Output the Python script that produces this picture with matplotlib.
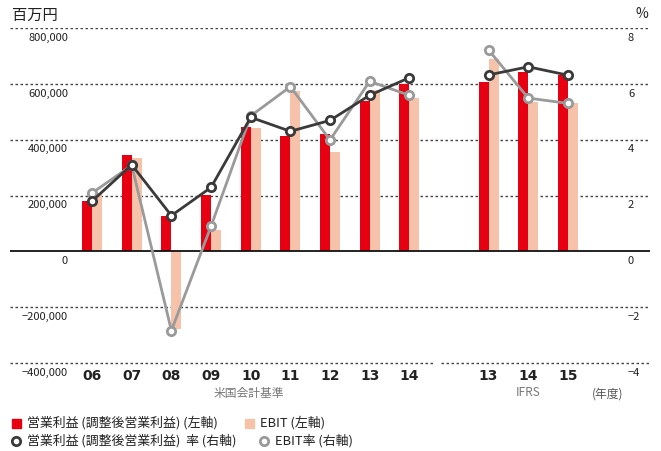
import matplotlib
matplotlib.use("Agg")
import matplotlib.pyplot as plt
from matplotlib.lines import Line2D
from matplotlib.patches import Rectangle

plt.rcParams['font.family'] = ['Noto Sans CJK JP', 'DejaVu Sans']

# ---- data ----
us_years = ["06", "07", "08", "09", "10", "11", "12", "13", "14"]
ifrs_years = ["13", "14", "15"]
us_op = [180000, 345000, 126000, 201000, 445000, 413000, 420000, 540000, 601000]
us_ebit = [210000, 334000, -279000, 76000, 442000, 575000, 355000, 578000, 549000]
us_op_rate = [1.80, 3.10, 1.28, 2.29, 4.80, 4.30, 4.69, 5.59, 6.22]
us_ebit_rate = [2.09, 3.08, -2.84, 0.90, 4.85, 5.90, 3.99, 6.09, 5.59]
ifrs_op = [605000, 644000, 631000]
ifrs_ebit = [690000, 536000, 531000]
ifrs_op_rate = [6.32, 6.61, 6.31]
ifrs_ebit_rate = [7.21, 5.49, 5.30]
left_ticks = [800000, 600000, 400000, 200000, 0, -200000, -400000]
left_labels = ["800,000", "600,000", "400,000", "200,000", "0", "−200,000", "−400,000"]
right_ticks = [8, 6, 4, 2, 0, -2, -4]
right_labels = ["8", "6", "4", "2", "0", "−2", "−4"]

RED = "#E60012"
PINK = "#F6C3AA"
DARK = "#3a3a3a"
GRAY = "#9a9a9a"
TXT = "#222222"

W, H = 661, 451
fig = plt.figure(figsize=(W / 100, H / 100), dpi=100)
ax = fig.add_axes([10 / W, 1 - 363 / H, 640 / W, 335 / H])
ax2 = ax.twinx()

gap = 2
us_x = list(range(len(us_years)))
ifrs_x = [len(us_years) - 1 + gap + i for i in range(len(ifrs_years))]
bw = 0.25

ax.bar([x - bw / 2 for x in us_x], us_op, width=bw, color=RED, zorder=3)
ax.bar([x + bw / 2 for x in us_x], us_ebit, width=bw, color=PINK, zorder=3)
ax.bar([x - bw / 2 for x in ifrs_x], ifrs_op, width=bw, color=RED, zorder=3)
ax.bar([x + bw / 2 for x in ifrs_x], ifrs_ebit, width=bw, color=PINK, zorder=3)

xmin, xmax = -2.07, ifrs_x[-1] + 2.07
ax.set_xlim(xmin, xmax)
ax.set_ylim(-400000, 800000)
ax2.set_ylim(-4, 8)

for s in list(ax.spines.values()) + list(ax2.spines.values()):
    s.set_visible(False)

# grid lines
dot = dict(color="#444444", linewidth=1.0, linestyle=(0, (1.8, 1.8)), zorder=1)
for v in [800000, 600000, 400000, 200000, -200000]:
    ax.axhline(v, **dot)
gap_l = (len(us_years) - 1) + 0.6
gap_r = (len(us_years) - 1) + 0.8
ax.plot([xmin, gap_l], [-400000, -400000], clip_on=False, **dot)
ax.plot([gap_r, xmax], [-400000, -400000], clip_on=False, **dot)
ax.axhline(0, color="#111111", linewidth=1.3, zorder=4)

# tick labels
ax.set_yticks([])
ax2.set_yticks([])
ax.set_xticks(us_x + ifrs_x)
ax.set_xticklabels(us_years + ifrs_years, fontsize=10, fontweight="bold", color=TXT,
                   family=['DejaVu Sans'])
ax.tick_params(axis="x", length=0, pad=4)

lx = (68 - 10) / 640
rx = (628 - 10) / 640
for v, lab in zip(left_ticks, left_labels):
    ax.annotate(lab, xy=(lx, v), xycoords=("axes fraction", "data"),
                xytext=(0, -7), textcoords="offset points",
                ha="right", va="center", fontsize=8, color=TXT)
for v, lab in zip(right_ticks, right_labels):
    ax2.annotate(lab, xy=(rx, v), xycoords=("axes fraction", "data"),
                 xytext=(0, -7), textcoords="offset points",
                 ha="left", va="center", fontsize=8, color=TXT)

# lines
mk = dict(marker="o", markersize=6, markerfacecolor="white", markeredgewidth=2.0,
          linewidth=2.0)
ax2.plot(us_x, us_ebit_rate, color=GRAY, markeredgecolor=GRAY, zorder=5, **mk)
ax2.plot(ifrs_x, ifrs_ebit_rate, color=GRAY, markeredgecolor=GRAY, zorder=5, **mk)
ax2.plot(us_x, us_op_rate, color=DARK, markeredgecolor=DARK, zorder=6, **mk)
ax2.plot(ifrs_x, ifrs_op_rate, color=DARK, markeredgecolor=DARK, zorder=6, **mk)

# titles / group labels
def ft(x, y, s, **kw):
    fig.text(x / W, 1 - y / H, s, **kw)

ft(12, 15, "百万円", fontsize=11, color=TXT, va="center", ha="left")
ft(648, 14, "%", fontsize=10, color=TXT, va="center", ha="right")
ft(249, 393, "米国会計基準", fontsize=8.5, color="#777777", va="center", ha="center")
ft(528, 393, "IFRS", fontsize=8.5, color="#777777", va="center", ha="center")
ft(608, 394, "(年度)", fontsize=8.5, color="#555555", va="center", ha="center")

# legend
fig.add_artist(Rectangle((12 / W, 1 - 428 / H), 9 / W, 9 / H, color=RED,
                         transform=fig.transFigure))
ft(27, 423, "営業利益 (調整後営業利益) (左軸)", fontsize=9.3, color=TXT, va="center")
fig.add_artist(Rectangle((245 / W, 1 - 428 / H), 9 / W, 9 / H, color=PINK,
                         transform=fig.transFigure))
ft(260, 423, "EBIT (左軸)", fontsize=9.3, color=TXT, va="center")
fig.add_artist(Line2D([16 / W], [1 - 441 / H], marker="o", markersize=6,
                      markerfacecolor="white", markeredgecolor=DARK,
                      markeredgewidth=2, transform=fig.transFigure))
ft(27, 441, "営業利益 (調整後営業利益)  率 (右軸)", fontsize=9.3, color=TXT, va="center")
fig.add_artist(Line2D([264 / W], [1 - 441 / H], marker="o", markersize=6,
                      markerfacecolor="white", markeredgecolor=GRAY,
                      markeredgewidth=2, transform=fig.transFigure))
ft(275, 441, "EBIT率 (右軸)", fontsize=9.3, color=TXT, va="center")

fig.savefig("out.png", dpi=100)
